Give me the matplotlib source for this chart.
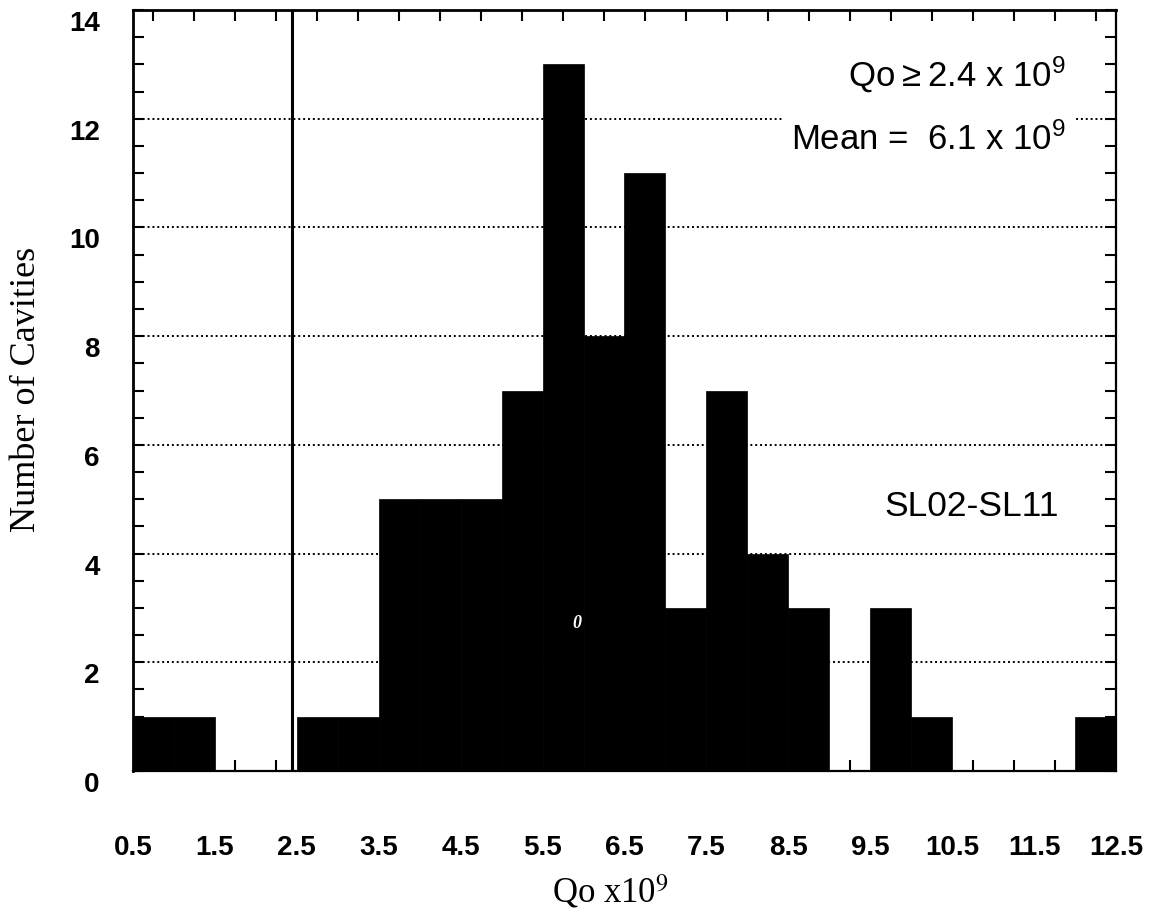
import matplotlib
matplotlib.use('Agg')
import matplotlib.pyplot as plt
from matplotlib.ticker import FixedLocator
from matplotlib.transforms import ScaledTranslation

# ---- data ----
bin_left = [0.5, 1.0, 1.5, 2.0, 2.5, 3.0, 3.5, 4.0, 4.5, 5.0, 5.5, 6.0,
            6.5, 7.0, 7.5, 8.0, 8.5, 9.0, 9.5, 10.0, 10.5, 11.0, 11.5, 12.0]
counts = [1, 1, 0, 0, 1, 1, 5, 5, 5, 7, 13, 8,
          11, 3, 7, 4, 3, 0, 3, 1, 0, 0, 0, 1]
bin_width = 0.5
qo_cut = 2.44
x_ticks = [0.5, 1.5, 2.5, 3.5, 4.5, 5.5, 6.5, 7.5, 8.5, 9.5, 10.5, 11.5, 12.5]
x_ticklabels = ['0.5', '1.5', '2.5', '3.5', '4.5', '5.5', '6.5', '7.5',
                '8.5', '9.5', '10.5', '11.5', '12.5']
y_ticks = [0, 2, 4, 6, 8, 10, 12, 14]
y_ticklabels = ['0', '2', '4', '6', '8', '10', '12', '14']
x_minor = [0.75, 1.25, 1.75, 2.25, 2.75, 3.25, 3.75, 4.25, 4.75, 5.25, 5.75,
           6.25, 6.75, 7.25, 7.75, 8.25, 8.75, 9.25, 9.75, 10.25, 10.75,
           11.25, 11.75, 12.25]
y_minor = [0.5, 1, 1.5, 2.5, 3, 3.5, 4.5, 5, 5.5, 6.5, 7, 7.5, 8.5, 9, 9.5,
           10.5, 11, 11.5, 12.5, 13, 13.5]

plt.rcParams['mathtext.fontset'] = 'custom'
plt.rcParams['mathtext.rm'] = 'Liberation Sans'
plt.rcParams['mathtext.it'] = 'Liberation Sans:italic'

W, H = 1154, 914
fig = plt.figure(figsize=(W / 100, H / 100), dpi=100)
ax = fig.add_axes([133 / W, 1 - 771 / H, (1116 - 133) / W, (771 - 10) / H])

ax.set_xlim(0.5, 12.5)
ax.set_ylim(0, 14)

# grid (dotted) behind bars
for yv in y_ticks[1:-1]:
    ax.axhline(yv, color='black', linestyle=(0, (1, 1.5)), linewidth=1.4, zorder=1)

ax.bar(bin_left, counts, width=bin_width, align='edge', color='black',
       edgecolor='black', linewidth=0.5, zorder=2)

ax.axvline(qo_cut, color='black', linewidth=2.2, zorder=3)

# ticks
ax.xaxis.set_major_locator(FixedLocator(x_ticks))
ax.set_xticklabels(x_ticklabels)
ax.xaxis.set_minor_locator(FixedLocator(x_minor))
ax.yaxis.set_major_locator(FixedLocator(y_ticks))
ax.set_yticklabels(y_ticklabels)
ax.yaxis.set_minor_locator(FixedLocator(y_minor))

ax.tick_params(axis='x', which='major', length=0, pad=46, top=False,
               labelsize=20)
ax.tick_params(axis='x', which='minor', direction='in', length=8, width=1.5,
               top=True, bottom=True)
ax.tick_params(axis='y', which='both', direction='in', length=8, width=1.5,
               left=True, right=True)
ax.tick_params(axis='y', which='major', pad=24, labelsize=20)

for lab in ax.get_xticklabels() + ax.get_yticklabels():
    lab.set_fontfamily('Liberation Sans')
    lab.set_fontweight('bold')
for lab in ax.get_yticklabels():
    lab.set_transform(lab.get_transform() +
                      ScaledTranslation(0, -11 / 100, fig.dpi_scale_trans))

for s in ['left', 'top']:
    ax.spines[s].set_linewidth(2)
for s in ['right', 'bottom']:
    ax.spines[s].set_linewidth(1.6)
    ax.spines[s].set_linestyle((0, (1, 1)))

# axis labels
fig.text(610 / W, 1 - 902 / H, r'Qo x10$^9$', ha='center', va='baseline',
         fontsize=25, family='Liberation Serif', math_fontfamily='stix')
fig.text(27 / W, 1 - 389 / H, 'Number of Cavities', ha='center', va='center',
         rotation=90, fontsize=26, family='Liberation Serif')

# annotations
fig.text(1066 / W, 1 - 75 / H, 'Qo\u2009\u2265\u20092.4 x 10$^9$', ha='right',
         va='center', fontsize=25, family='Liberation Sans')
fig.text(1066 / W, 1 - 140 / H, 'Mean =  6.1 x 10$^9$', ha='right',
         va='center', fontsize=25, family='Liberation Sans',
         bbox=dict(facecolor='white', edgecolor='none', pad=6))
fig.text(972 / W, 1 - 507 / H, 'SL02-SL11', ha='center', va='center',
         fontsize=25.5, family='Liberation Sans')
fig.text(577 / W, 1 - 623 / H, '0', ha='center', va='center', color='white',
         fontsize=13, family='Liberation Serif', style='italic',
         fontweight='bold', zorder=5)

fig.savefig('out.png', dpi=100)
